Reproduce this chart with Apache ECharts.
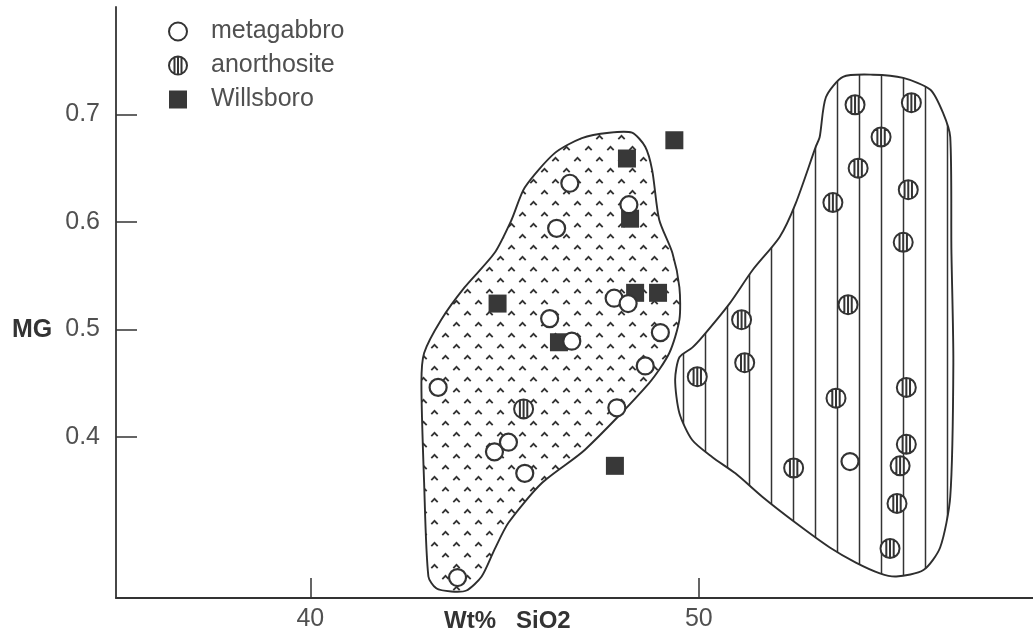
<!DOCTYPE html>
<html>
<head>
<meta charset="utf-8">
<script src="https://cdn.jsdelivr.net/npm/echarts@6/dist/echarts.min.js"></script>
<style>
html,body{margin:0;padding:0;background:#fff;}
#chart{width:1033px;height:641px;}
</style>
</head>
<body>
<div id="chart"></div>
<script>
// ---- tick labels ----
const xTicks = [40, 50];
const yTicks = [0.4, 0.5, 0.6, 0.7];

// ---- series (Wt% SiO2, MG) ----
const metagabbro = [
  [43.29, 0.446], [43.79, 0.269], [44.74, 0.386], [45.10, 0.395], [45.52, 0.366],
  [46.16, 0.510], [46.73, 0.489], [46.34, 0.594], [46.68, 0.636], [47.82, 0.529],
  [48.18, 0.524], [48.20, 0.616], [49.01, 0.497], [48.62, 0.466], [47.89, 0.427],
  [53.89, 0.377]
];
const anorthosite = [
  [45.49, 0.426], [49.96, 0.456], [51.10, 0.509], [51.18, 0.469], [52.44, 0.371],
  [53.53, 0.436], [53.84, 0.523], [53.45, 0.618], [54.10, 0.650], [54.02, 0.709],
  [54.69, 0.679], [55.47, 0.711], [55.39, 0.630], [55.26, 0.581], [55.34, 0.446],
  [55.34, 0.393], [55.18, 0.373], [55.10, 0.338], [54.92, 0.296]
];
const willsboro = [
  [44.82, 0.524], [46.40, 0.488], [47.84, 0.373], [48.15, 0.659], [48.23, 0.603],
  [48.36, 0.534], [48.95, 0.534], [49.37, 0.676]
];

// ---- field outlines (Wt% SiO2, MG) ----
const gabbroField = [
  [47.69,0.683],[48.28,0.683],[48.62,0.670],[48.80,0.648],[48.98,0.602],[49.32,0.571],
  [49.50,0.539],[49.50,0.509],[49.24,0.478],[48.72,0.450],[47.07,0.388],[45.96,0.357],
  [45.10,0.320],[44.74,0.295],[44.41,0.270],[44.02,0.257],[43.63,0.256],[43.24,0.259],
  [43.04,0.270],[42.93,0.357],[42.86,0.450],[42.93,0.478],[43.37,0.509],[43.97,0.539],
  [44.74,0.571],[45.18,0.602],[45.52,0.632],[46.29,0.664],[46.99,0.678]
];
const anorthositeField = [
  [53.71,0.735],[54.48,0.737],[55.26,0.734],[55.96,0.723],[56.29,0.701],[56.47,0.679],
  [56.50,0.574],[56.55,0.469],[56.47,0.344],[56.21,0.297],[55.78,0.276],[55.08,0.270],
  [54.66,0.273],[54.04,0.283],[53.37,0.297],[52.49,0.320],[51.64,0.344],[50.94,0.366],
  [50.35,0.381],[49.83,0.397],[49.50,0.422],[49.39,0.453],[49.50,0.474],[49.83,0.483],
  [50.09,0.493],[50.79,0.524],[51.38,0.555],[52.08,0.586],[52.49,0.617],[53.01,0.670],
  [53.11,0.679],[53.27,0.716]
];

// ---- fill patterns ----
function hatchTile() {
  const c = document.createElement('canvas');
  c.width = 22; c.height = 22;
  const g = c.getContext('2d');
  g.fillStyle = '#fff'; g.fillRect(0, 0, 22, 22);
  g.strokeStyle = '#333'; g.lineWidth = 1.5;
  g.beginPath(); g.moveTo(1.5, 0); g.lineTo(1.5, 22); g.stroke();
  return c;
}
function chevronTile() {
  const c = document.createElement('canvas');
  c.width = 22; c.height = 22;
  const g = c.getContext('2d');
  g.fillStyle = '#fff'; g.fillRect(0, 0, 22, 22);
  g.strokeStyle = '#333'; g.lineWidth = 1.8;
  [[5.5, 5], [16.5, 16]].forEach(([cx, cy]) => {
    g.beginPath(); g.moveTo(cx - 3.2, cy + 2.2); g.lineTo(cx, cy - 1.2); g.lineTo(cx + 3.2, cy + 2.2); g.stroke();
  });
  return c;
}
const hatchPattern = { image: hatchTile(), repeat: 'repeat' };
const chevronPattern = { image: chevronTile(), repeat: 'repeat' };

const stripedCircle = 'path://M10,1 C14.97,1 19,5.03 19,10 C19,14.97 14.97,19 10,19 C5.03,19 1,14.97 1,10 C1,5.03 5.03,1 10,1 Z M6.5,1.8 L6.5,18.2 M10,1 L10,19 M13.5,1.8 L13.5,18.2';

function fieldSeries(name, pts, fill) {
  return {
    type: 'custom', name: name, silent: true, z: 1,
    data: [pts[0]],
    renderItem: function (params, api) {
      return {
        type: 'polygon',
        shape: { points: pts.map(p => api.coord(p)), smooth: 0.25 },
        style: { fill: fill, stroke: '#2e2e2e', lineWidth: 1.9 }
      };
    }
  };
}

const textColor = '#505050';
const font = 'Liberation Sans, Arial, Helvetica, sans-serif';

const chart = echarts.init(document.getElementById('chart'), null, { renderer: 'canvas' });
chart.setOption({
  animation: false,
  backgroundColor: '#fff',
  grid: { left: 116, right: 0, top: 7, bottom: 43, containLabel: false, outerBoundsMode: 'none' },
  xAxis: {
    type: 'value', min: 35, max: 58.6,
    axisLine: { show: true, lineStyle: { color: '#333', width: 1.8 } },
    axisTick: { show: true, inside: true, length: 20, customValues: xTicks, lineStyle: { color: '#333', width: 1.5 } },
    axisLabel: { customValues: xTicks, color: textColor, fontSize: 25, fontFamily: font, margin: 9 },
    splitLine: { show: false }
  },
  yAxis: {
    type: 'value', min: 0.25, max: 0.8,
    axisLine: { show: true, lineStyle: { color: '#333', width: 1.8 } },
    axisTick: { show: true, inside: true, length: 21, customValues: yTicks, lineStyle: { color: '#333', width: 1.5 } },
    axisLabel: { customValues: yTicks, color: textColor, fontSize: 25, fontFamily: font, margin: 16,
      formatter: v => v.toFixed(1) },
    splitLine: { show: false }
  },
  legend: {
    orient: 'vertical', left: 163, top: 14, itemGap: 9, itemWidth: 18, itemHeight: 18,
    textStyle: { color: textColor, fontSize: 25, fontFamily: font, padding: [0, 0, 0, 19] },
    data: ['metagabbro', 'anorthosite', 'Willsboro']
  },
  graphic: [
    { type: 'text', left: 12, top: 318, style: { text: 'MG', fill: '#333', font: 'bold 25px ' + font } },
    { type: 'text', left: 444, top: 609, style: { text: 'Wt%   SiO2', fill: '#333', font: 'bold 24px ' + font } }
  ],
  series: [
    fieldSeries('gabbro field', gabbroField, chevronPattern),
    fieldSeries('anorthosite field', anorthositeField, hatchPattern),
    {
      name: 'Willsboro', type: 'scatter', z: 3, symbol: 'rect', symbolSize: 18,
      itemStyle: { color: '#383838', opacity: 1 }, data: willsboro
    },
    {
      name: 'metagabbro', type: 'scatter', z: 4, symbol: 'circle', symbolSize: 17,
      itemStyle: { color: '#fff', borderColor: '#333', borderWidth: 2.2, opacity: 1 }, data: metagabbro
    },
    {
      name: 'anorthosite', type: 'scatter', z: 4, symbol: stripedCircle, symbolSize: 19,
      itemStyle: { color: '#fff', borderColor: '#333', borderWidth: 2, opacity: 1 }, data: anorthosite
    }
  ]
});
</script>
</body>
</html>
